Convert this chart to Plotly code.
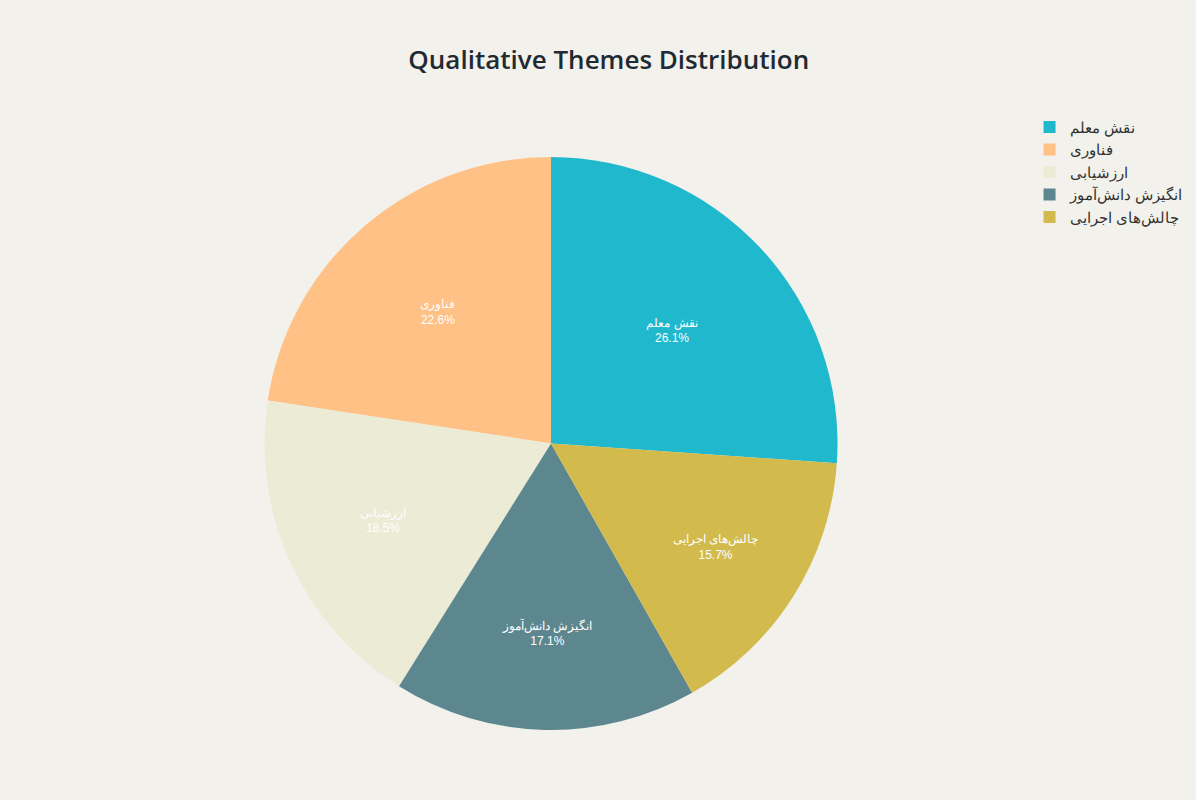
import plotly.graph_objects as go

# Share of each qualitative theme (%)
themes = ["نقش معلم", "فناوری", "ارزشیابی", "انگیزش دانش‌آموز", "چالش‌های اجرایی"]
shares = [26.1, 22.6, 18.5, 17.1, 15.7]
colors = ["#1FB8CD", "#FFC185", "#ECEBD5", "#5D878F", "#D2BA4C"]

fig = go.Figure(
    go.Pie(
        labels=themes,
        values=shares,
        marker=dict(colors=colors),
        textinfo="label+percent",
        textposition="inside",
        insidetextorientation="horizontal",
        textfont=dict(color="white", size=12),
        sort=True,
        hole=0,
    )
)

fig.update_layout(
    width=1196,
    height=800,
    paper_bgcolor="#F2F1EC",
    plot_bgcolor="#F2F1EC",
    font=dict(family="Liberation Sans, Arial, sans-serif", size=14, color="#333333"),
    title=dict(
        text="Qualitative Themes Distribution",
        x=0.509,
        xref="container",
        xanchor="center",
        y=0.925,
        yref="container",
        yanchor="middle",
        font=dict(family="Open Sans, Liberation Sans, sans-serif", size=26,
                  color="#1F2A33", weight=600),
    ),
    legend=dict(
        x=1.008,
        xanchor="left",
        y=1.0805,
        yanchor="top",
        font=dict(size=15, color="#333333"),
        bgcolor="rgba(0,0,0,0)",
    ),
    margin=dict(l=80, r=174, t=157, b=70, autoexpand=False),
    uniformtext=dict(minsize=10, mode="show"),
)

fig.write_html("out.html")
